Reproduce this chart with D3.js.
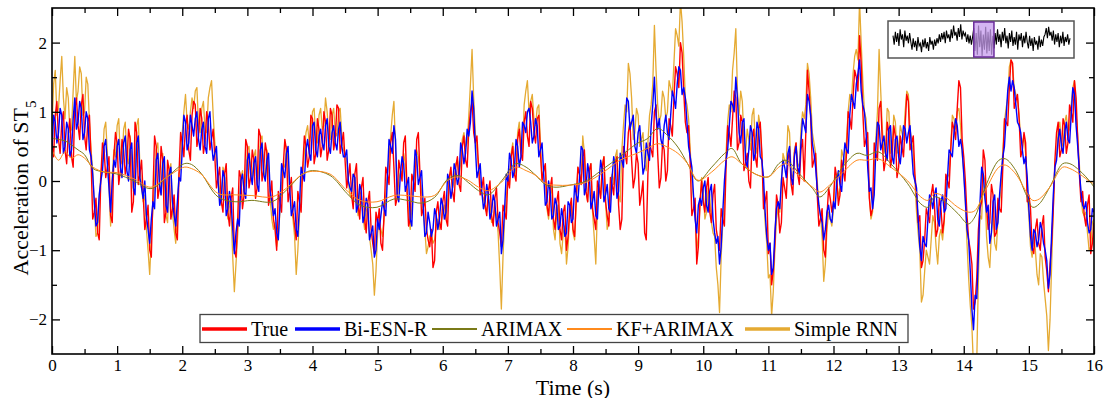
<!DOCTYPE html>
<html>
<head>
<meta charset="utf-8">
<script src="https://cdn.jsdelivr.net/npm/d3@7"></script>
<style>
  body { margin: 0; background: #fff; }
  svg text { font-family: "Liberation Serif", "Times New Roman", serif; fill: #000; }
</style>
</head>
<body>
<div id="chart"></div>
<script>
// Acceleration of ST5, true signal vs. four predictors, 16 s window

// ---- data (one value every 0.025 s, 40 per row = 1 s) ----
const sampleStep = 0.025;

const trueValues = [
  0.55,0.35,0.95,1.15,0.60,0.40,0.85,1.00,0.45,0.25,0.70,0.90,0.35,0.20,1.05,1.20,0.80,0.60,1.10,1.25,0.65,0.45,0.85,0.95,0.30,-0.55,-0.45,-0.25,-0.75,-0.85,0.05,0.55,0.45,0.05,0.20,0.35,-0.50,-0.60,0.35,0.70,
  0.55,-0.05,0.15,0.60,0.45,0.10,0.25,0.75,0.60,-0.45,-0.30,0.85,0.70,-0.05,0.10,0.30,-0.20,-0.70,-0.55,-0.35,-1.00,-1.10,-0.20,0.65,0.50,-0.25,-0.10,0.50,0.30,-0.60,-0.45,0.30,0.15,-0.55,-0.40,-0.20,-0.75,-0.85,0.10,0.70,
  0.55,0.35,0.80,0.95,0.45,0.30,0.95,1.15,1.10,0.50,0.65,1.05,0.90,0.40,0.55,1.00,0.85,0.45,0.60,0.75,0.35,-0.10,0.05,0.20,-0.30,-0.45,0.10,0.25,-0.45,-0.65,-0.25,-0.10,-1.00,-1.10,-0.60,0.15,0.05,-0.40,-0.20,0.60,
  0.50,-0.10,0.05,0.45,0.30,-0.25,-0.10,0.75,0.65,0.00,0.15,0.55,0.40,-0.35,-0.20,0.00,-0.55,-0.70,-1.00,-0.15,-0.30,-0.45,0.20,0.60,0.45,-0.30,-0.15,0.05,-0.45,-0.65,-0.85,-0.15,-0.30,-0.45,0.20,0.65,0.50,0.20,0.35,0.95,
  0.90,0.25,0.40,0.90,0.75,0.35,0.50,1.00,0.85,0.30,0.45,1.05,0.95,0.45,0.60,1.10,1.05,0.40,0.55,0.70,0.30,-0.10,0.05,0.25,-0.20,-0.40,0.10,0.25,-0.35,-0.55,-0.10,0.05,-0.55,-0.75,-0.30,-0.15,-0.70,-0.90,-1.05,-0.45,
  -0.60,-0.40,-0.90,-1.00,-0.45,0.20,0.10,-0.05,0.55,0.70,0.20,-0.35,-0.25,0.30,0.15,0.00,0.55,0.65,-0.10,-0.65,-0.55,0.10,0.00,-0.15,0.60,0.70,0.10,-0.50,-0.40,-0.25,-0.70,-0.85,-0.95,-0.70,-1.25,-1.15,-0.45,-0.30,-0.60,-0.70,
  -0.30,-0.15,-0.55,-0.65,0.05,0.20,-0.15,-0.30,0.20,0.35,-0.05,-0.15,0.50,0.65,0.30,0.20,0.75,1.00,1.15,0.70,0.55,0.65,0.20,-0.20,-0.10,0.05,-0.35,-0.50,-0.15,0.00,-0.50,-0.65,-0.25,-0.10,-0.60,-0.75,-0.95,-0.35,-0.45,-0.55,
  0.05,-0.10,0.35,0.50,0.10,0.00,0.60,0.75,0.40,0.30,0.85,1.00,0.65,0.50,1.15,1.05,0.70,0.55,0.90,0.95,0.40,0.00,0.15,0.25,-0.35,-0.50,-0.10,0.05,-0.55,-0.70,-0.30,-0.15,-0.70,-0.85,-0.45,-0.35,-1.00,-0.80,-0.40,-0.25,
  -0.70,-0.80,-0.25,0.20,0.10,-0.05,0.35,0.45,-0.15,-0.30,0.15,0.25,-0.40,-0.55,-0.70,0.00,-0.10,-0.25,0.20,0.35,-0.30,-0.50,-0.65,0.05,-0.05,-0.20,0.25,0.35,-0.35,-0.70,-0.55,0.50,0.40,0.25,0.70,0.85,0.30,-0.10,0.05,0.40,
  0.25,-0.35,-0.20,0.00,-0.75,-0.85,0.10,0.55,0.45,0.35,1.00,1.10,0.40,-0.10,0.05,0.55,0.45,0.00,0.15,0.90,0.80,0.65,1.20,1.65,1.55,1.35,2.00,1.85,1.30,0.85,0.70,0.80,0.25,-0.50,-0.40,-0.25,-1.20,-0.95,-0.30,0.00,
  -0.30,-0.45,-0.10,0.05,-0.45,-0.60,-0.20,-0.05,-0.70,-0.85,-1.00,-0.40,-0.55,-0.65,0.20,0.80,0.70,0.50,0.90,1.30,1.20,0.45,0.55,0.95,0.85,0.15,0.25,0.40,0.00,-0.10,0.60,0.75,0.35,0.20,0.75,0.85,0.40,-0.40,-0.30,-0.15,
  -1.05,-0.90,-1.50,-1.30,-0.90,-0.20,-0.35,-0.75,-0.60,0.05,-0.10,-0.25,0.30,0.45,-0.05,-0.20,0.40,0.55,0.10,-0.05,0.45,0.60,0.00,0.70,1.60,1.30,0.90,0.20,0.30,0.40,-0.20,-0.65,-0.55,-0.40,-1.00,-1.10,-0.50,-0.10,-0.25,-0.45,
  -0.30,0.20,0.05,-0.35,-0.20,0.30,0.15,0.00,0.40,1.00,0.90,0.75,1.20,1.60,1.50,1.30,2.10,1.70,1.00,0.50,0.60,0.70,-0.25,-0.50,-0.40,0.55,0.40,0.30,1.05,1.15,0.55,0.15,0.30,0.85,0.70,0.20,0.35,0.80,0.65,0.05,
  0.20,0.65,0.50,0.35,0.80,1.25,1.15,0.45,0.55,0.65,0.10,-0.20,-0.60,-0.50,-1.25,-1.15,-0.85,-0.40,-0.50,-0.60,-0.20,-0.05,-0.35,-0.80,-0.70,-0.25,-0.40,-0.75,-0.55,0.10,0.00,-0.10,0.45,0.85,0.75,0.60,1.05,1.45,1.35,0.60,
  0.35,0.00,-0.50,-0.85,-1.00,-1.20,-1.85,-1.75,-1.40,-0.70,-0.40,-0.30,0.45,0.30,-0.35,-0.70,-0.60,-0.05,-0.20,-0.80,-0.75,-0.25,-0.40,-0.45,0.20,0.90,0.85,0.80,1.35,1.75,1.70,1.05,1.15,1.25,0.90,0.35,0.45,0.70,0.55,-0.30,
  -0.20,-0.40,-0.95,-1.05,-0.70,-0.55,-0.90,-1.00,-0.65,-0.50,-1.10,-1.30,-1.60,-1.20,-0.90,-0.40,0.30,0.70,0.85,0.35,0.45,0.90,0.80,0.40,0.55,1.10,1.00,0.85,1.45,1.20,0.60,0.10,-0.30,-0.15,-0.50,-0.65,-0.35,-0.20,-1.05,-0.90,
  -0.60
];

const biEsnValues = [
  0.45,0.95,0.85,0.55,0.70,1.05,0.95,0.40,0.50,0.85,0.75,0.35,0.45,0.90,1.20,0.75,0.85,1.15,1.05,0.60,0.70,1.00,0.90,0.45,0.35,0.10,-0.30,-0.65,-0.60,-0.20,0.00,0.15,0.50,0.60,0.25,-0.10,-0.45,0.00,0.30,0.20,
  0.50,0.60,0.20,0.05,0.55,0.65,0.15,0.00,0.45,0.55,-0.10,-0.20,0.55,0.65,0.05,-0.10,-0.25,0.00,-0.50,-0.70,-0.90,-0.55,-0.30,-0.40,0.30,0.40,-0.05,-0.20,0.25,0.35,-0.35,-0.45,0.10,0.20,-0.30,-0.50,-0.65,-0.30,0.05,0.00,
  0.45,0.95,0.85,0.45,0.55,0.95,0.80,0.65,0.90,1.00,0.60,0.45,0.75,0.85,0.50,0.40,0.90,1.00,0.55,0.30,0.40,0.50,0.00,-0.35,-0.25,0.15,0.05,-0.50,-0.40,-0.15,-0.30,-0.70,-1.05,-0.75,-0.55,-0.65,0.00,0.10,-0.15,-0.25,
  0.30,0.40,0.10,-0.05,0.25,0.35,-0.05,-0.15,0.45,0.55,0.10,0.00,0.30,0.40,-0.15,-0.30,-0.50,-0.40,-0.75,-0.85,-0.35,0.25,0.15,0.05,0.40,0.50,-0.10,-0.50,-0.40,-0.30,-0.70,-0.80,-0.35,0.20,0.10,0.00,0.45,0.60,0.40,0.30,
  0.80,0.85,0.45,0.35,0.65,0.75,0.55,0.45,0.80,0.90,0.50,0.40,0.70,0.80,0.55,0.45,0.75,0.85,0.50,0.35,0.35,0.45,0.00,-0.10,-0.15,0.10,0.05,-0.45,-0.35,-0.05,-0.15,-0.60,-0.50,-0.25,-0.35,-0.85,-0.75,-0.65,-1.10,-1.00,
  -0.55,-0.70,-0.50,-0.30,-0.40,-0.50,0.05,0.60,0.50,0.40,0.80,0.60,-0.20,-0.30,0.10,0.35,0.25,-0.15,-0.05,0.05,-0.55,-0.65,-0.05,0.45,0.35,-0.05,0.05,0.15,-0.35,-0.80,-0.75,-0.45,-0.60,-0.80,-0.70,-0.40,-0.50,-0.70,-0.55,-0.25,
  -0.35,-0.55,-0.45,0.10,0.00,-0.25,-0.10,0.25,0.15,-0.05,0.05,0.55,0.45,0.25,0.40,0.75,0.65,0.85,1.30,1.05,0.50,0.05,0.15,0.25,-0.15,-0.40,-0.30,-0.05,-0.20,-0.55,-0.45,-0.20,-0.30,-0.65,-0.55,-0.45,-1.05,-0.85,-0.40,0.10,
  0.00,0.40,0.30,0.05,0.15,0.60,0.50,0.20,0.35,0.85,0.80,0.70,1.00,1.05,0.85,0.55,0.65,0.90,0.80,0.35,0.45,0.55,0.10,-0.35,-0.30,0.00,-0.15,-0.55,-0.50,-0.25,-0.35,-0.70,-0.65,-0.40,-0.55,-0.80,-0.75,-0.30,-0.35,-0.60,
  -0.55,-0.05,-0.20,-0.30,0.05,0.50,0.45,-0.20,-0.10,0.25,0.10,-0.40,-0.30,-0.15,-0.50,-0.55,0.00,0.30,0.15,-0.30,-0.20,-0.05,-0.40,-0.45,0.05,0.35,0.20,-0.25,-0.15,0.40,0.30,0.20,0.75,1.20,1.15,0.75,0.85,0.95,0.50,0.40,
  0.70,0.80,0.45,0.10,0.20,0.55,0.40,0.30,0.80,1.10,1.50,0.95,0.75,0.90,0.60,0.50,0.80,0.95,0.70,0.60,0.95,1.30,1.20,1.05,1.40,1.65,1.60,1.25,1.35,1.20,0.85,0.50,0.35,0.20,-0.20,-0.55,-0.75,-0.35,-0.25,-0.35,
  -0.10,0.00,-0.35,-0.45,-0.15,-0.05,-0.55,-0.75,-0.90,-0.80,-1.20,-0.95,-0.45,0.00,0.30,0.45,0.80,1.15,1.10,1.00,1.50,1.20,0.70,0.55,0.85,0.90,0.30,0.20,0.45,0.80,0.70,0.30,0.40,0.85,0.75,0.35,0.30,0.05,-0.45,-0.80,
  -1.00,-0.90,-1.35,-1.25,-0.75,-0.40,-0.30,-0.40,0.00,0.30,0.20,0.05,0.40,0.50,0.05,-0.05,0.35,0.50,0.20,0.10,0.55,0.90,0.80,0.70,1.25,1.15,0.95,0.55,0.40,0.20,-0.10,-0.35,-0.50,-0.60,-0.85,-0.70,-0.45,-0.35,-0.55,-0.60,
  -0.30,-0.40,0.00,0.15,-0.05,-0.15,0.25,0.55,0.45,0.40,0.95,1.25,1.15,1.05,1.40,1.55,1.75,1.30,1.10,1.00,0.70,0.20,-0.15,-0.10,-0.40,-0.20,0.45,0.85,0.80,0.45,0.55,0.65,0.40,0.30,0.75,0.80,0.35,0.25,0.60,0.65,
  0.35,0.25,0.50,0.80,0.75,0.55,0.70,0.80,0.45,0.10,0.00,-0.10,-0.55,-0.95,-1.15,-0.80,-0.90,-0.95,-0.55,-0.20,-0.25,-0.40,-0.20,-0.10,-0.55,-0.65,-0.30,-0.20,-0.45,-0.40,0.05,0.45,0.40,0.35,0.70,0.90,0.80,0.50,0.60,0.45,
  0.10,-0.30,-0.70,-0.85,-1.30,-1.85,-2.15,-1.65,-1.70,-1.05,-0.30,0.20,0.10,-0.25,-0.45,-0.35,-0.90,-0.75,-0.30,-0.20,-0.70,-0.60,-0.20,0.10,0.35,0.50,0.90,1.30,1.50,1.30,1.45,1.35,1.10,0.85,0.80,0.70,0.45,0.25,0.35,0.05,
  -0.40,-0.80,-1.00,-0.70,-0.75,-0.95,-0.85,-0.60,-0.70,-0.90,-1.00,-1.15,-1.55,-1.35,-0.75,-0.20,0.20,0.30,0.60,0.75,0.50,0.40,0.70,0.85,0.60,0.55,0.95,1.35,1.25,0.80,0.50,0.15,-0.15,-0.35,-0.40,-0.30,-0.60,-0.75,-0.70,-0.40,
  -0.45
];

const simpleRnnValues = [
  0.80,1.40,1.60,0.95,1.05,1.45,1.80,1.20,0.90,1.35,1.20,0.70,0.75,1.30,1.80,1.15,1.30,1.65,1.55,0.95,1.00,1.50,1.40,0.85,0.45,0.15,-0.35,-0.80,-0.75,-0.25,0.10,0.30,0.75,0.85,0.40,-0.10,-0.65,0.05,0.45,0.35,
  0.80,0.90,0.30,0.25,0.75,0.85,0.35,0.25,0.65,0.30,-0.15,0.10,0.80,0.90,0.20,-0.10,-0.30,-0.20,-0.70,-1.00,-1.35,-0.80,-0.40,0.00,0.45,0.55,-0.05,-0.20,0.40,0.05,-0.50,-0.60,0.15,0.25,-0.45,-0.70,-0.90,-0.40,0.10,0.20,
  0.70,1.00,1.25,0.85,0.75,1.00,1.20,1.05,1.30,1.35,0.80,0.70,1.05,1.15,0.75,0.70,1.20,1.35,1.45,0.95,0.55,0.35,0.05,-0.15,-0.35,0.20,0.10,-0.20,-0.55,-0.30,-0.45,-1.10,-1.60,-1.20,-0.80,-0.40,0.05,0.15,-0.20,0.10,
  0.45,0.50,0.15,0.05,0.35,0.45,-0.10,0.20,0.60,0.65,0.15,0.05,0.45,0.20,-0.25,-0.55,-0.70,-0.60,-0.95,-0.80,-0.45,-0.05,0.25,0.20,0.50,0.30,-0.15,-0.40,-0.55,-0.80,-1.35,-1.00,-0.50,-0.10,0.15,0.40,0.70,0.80,0.55,0.70,
  1.00,1.05,0.60,0.55,0.95,1.05,0.75,0.80,1.20,1.00,0.65,0.60,0.95,1.05,0.70,0.65,1.00,1.05,0.65,0.45,0.40,0.30,0.00,-0.20,-0.25,0.10,0.05,-0.30,-0.50,-0.15,-0.20,-0.50,-0.70,-0.40,-0.45,-0.80,-1.00,-1.20,-1.65,-1.30,
  -0.75,-0.60,-0.70,-0.80,-0.55,-0.20,0.10,0.35,0.65,0.95,1.15,0.50,-0.25,0.00,0.15,0.10,0.40,0.25,-0.10,-0.45,-0.70,-0.40,-0.05,0.15,0.45,0.35,0.05,-0.15,-0.45,-0.70,-1.05,-0.95,-0.80,-0.75,-0.90,-0.85,-0.65,-0.55,-0.70,-0.60,
  -0.45,-0.35,-0.55,-0.30,0.05,0.15,-0.10,0.00,0.25,0.30,0.10,0.25,0.60,0.70,0.50,0.55,0.95,1.40,1.90,1.20,0.70,0.45,0.20,0.00,-0.20,-0.25,-0.40,-0.45,-0.25,-0.35,-0.60,-0.55,-0.40,-0.50,-0.75,-1.25,-1.85,-1.10,-0.55,-0.25,
  0.05,-0.05,0.40,0.55,0.20,0.10,0.70,0.85,0.50,0.40,1.10,1.30,1.45,1.00,1.15,1.25,0.90,0.80,1.05,1.10,0.55,0.05,0.15,0.20,-0.40,-0.55,-0.20,-0.10,-0.70,-0.85,-0.45,-0.35,-0.90,-1.05,-0.75,-0.65,-1.20,-0.95,-0.45,-0.35,
  -0.75,-0.85,-0.30,0.20,0.10,0.00,0.65,0.40,-0.15,-0.30,0.15,0.25,-0.45,-0.80,-1.20,-0.40,-0.05,-0.20,0.25,0.35,-0.30,-0.70,-0.60,-0.05,0.10,-0.05,0.35,0.45,-0.20,-0.30,0.45,0.80,1.10,1.00,1.70,1.55,1.20,0.60,0.70,1.05,
  0.95,0.50,0.60,0.70,0.25,0.15,0.55,0.95,1.10,1.40,2.25,1.60,1.10,0.85,0.95,1.30,1.20,0.90,1.00,1.45,1.35,1.25,1.70,2.20,2.10,1.95,2.60,2.30,1.80,1.20,1.10,0.90,0.45,0.00,-0.25,-0.45,-1.00,-0.80,-0.35,0.05,
  -0.15,-0.55,-0.45,-0.10,-0.20,-0.60,-0.75,-0.80,-1.25,-1.50,-1.90,-1.10,-0.60,-0.30,0.40,0.85,1.10,1.00,1.60,1.85,2.20,1.30,0.95,1.30,1.15,0.60,0.40,0.75,0.60,0.45,0.95,1.05,0.50,0.40,0.95,0.80,0.35,-0.15,-0.60,-0.90,
  -1.40,-1.35,-1.95,-1.60,-1.00,-0.55,-0.40,-0.45,0.00,0.40,0.30,0.25,0.80,0.70,0.10,0.05,0.45,0.55,0.25,0.20,0.75,1.00,0.90,1.10,1.70,1.55,1.20,0.70,0.55,0.40,0.00,-0.35,-0.50,-0.80,-1.45,-1.20,-0.70,-0.45,-0.55,-0.65,
  -0.40,0.10,0.00,-0.25,-0.10,0.45,0.35,0.25,0.60,1.00,1.25,1.15,1.55,1.80,1.90,1.75,2.60,2.00,1.45,1.00,0.90,0.45,-0.20,-0.55,-0.45,0.20,0.60,1.00,1.90,1.30,0.75,0.40,0.50,1.05,1.00,0.40,0.45,0.95,0.85,0.40,
  0.45,0.80,0.70,0.60,1.00,1.30,1.25,0.75,0.60,0.40,0.00,-0.45,-0.75,-1.00,-1.75,-1.65,-1.30,-1.00,-1.10,-1.20,-0.85,-0.50,-0.60,-0.95,-1.20,-0.80,-0.70,-0.85,-0.60,-0.10,0.05,0.10,0.50,0.95,0.90,0.75,1.00,1.05,0.80,0.40,
  0.15,-0.30,-0.90,-1.40,-1.80,-2.10,-2.70,-2.80,-2.60,-1.40,-0.50,-0.55,0.10,0.00,-0.80,-1.10,-1.25,-0.75,-0.50,-0.90,-1.00,-0.55,-0.30,-0.10,0.45,0.85,1.05,1.20,1.65,1.75,1.65,1.35,1.25,1.20,0.95,0.60,0.55,0.65,0.40,-0.20,
  -0.50,-0.95,-1.10,-0.80,-1.00,-1.35,-1.50,-1.05,-1.10,-1.45,-1.70,-1.95,-2.45,-2.00,-1.20,-0.40,0.25,0.35,0.75,0.85,0.55,0.50,0.85,0.95,0.70,0.75,1.10,1.35,1.45,0.95,0.65,0.25,-0.20,-0.45,-0.50,-0.45,-0.75,-1.00,-0.95,-0.60,
  -0.55
];

// smooth predictors, read at the points where they turn
const smoothTime = [
  0.00,0.10,0.20,0.30,0.40,0.50,0.63,0.80,1.00,1.26,1.52,1.77,2.03,2.14,2.29,2.55,2.81,3.07,3.38,3.59,
  3.85,4.00,4.27,4.53,4.73,4.99,5.25,5.46,5.67,5.87,6.08,6.24,6.39,6.55,6.70,6.91,7.12,7.28,7.43,7.59,
  7.74,7.95,8.20,8.47,8.72,8.98,9.14,9.30,9.45,9.61,9.76,9.92,10.13,10.33,10.44,10.59,10.80,11.00,11.16,11.27,
  11.48,11.68,11.79,11.94,12.10,12.36,12.51,12.69,12.88,13.14,13.34,13.45,13.55,13.71,13.91,14.07,14.17,14.33,14.54,14.64,
  14.80,14.95,15.06,15.16,15.32,15.52,15.63,15.78,15.94,16.00
];
const arimaxValues = [
  0.62,0.60,0.58,0.52,0.45,0.38,0.18,0.13,0.10,0.00,-0.11,0.06,0.25,0.24,0.11,-0.23,-0.30,-0.28,-0.30,-0.14,
  0.10,0.15,0.08,-0.18,-0.35,-0.38,-0.26,-0.28,-0.32,-0.24,0.03,0.08,-0.02,-0.14,-0.20,0.01,0.25,0.20,0.08,-0.06,
  -0.09,-0.06,0.00,0.18,0.35,0.54,0.61,0.76,0.66,0.49,0.25,0.00,0.20,0.40,0.47,0.25,0.10,0.06,0.25,0.30,
  0.10,-0.11,-0.23,-0.09,0.15,0.40,0.37,0.42,0.25,-0.04,-0.33,-0.38,-0.23,-0.30,-0.47,-0.62,-0.52,-0.09,0.30,0.32,
  0.15,-0.18,-0.38,-0.33,-0.09,0.25,0.25,0.15,-0.01,-0.09
];
const kfArimaxValues = [
  0.45,0.30,0.42,0.33,0.38,0.33,0.20,0.13,0.12,0.03,-0.09,0.06,0.20,0.18,0.10,-0.18,-0.20,-0.21,-0.23,-0.11,
  0.10,0.14,0.10,-0.14,-0.28,-0.30,-0.21,-0.21,-0.23,-0.21,0.01,0.06,0.01,-0.09,-0.14,-0.01,0.20,0.15,0.08,-0.04,
  -0.06,-0.06,-0.02,0.13,0.30,0.40,0.47,0.54,0.49,0.40,0.25,0.01,0.13,0.30,0.35,0.25,0.10,0.06,0.20,0.25,
  0.06,-0.09,-0.16,-0.06,0.08,0.30,0.30,0.32,0.20,0.00,-0.23,-0.28,-0.18,-0.23,-0.38,-0.45,-0.43,-0.14,0.20,0.23,
  0.10,-0.14,-0.28,-0.26,-0.09,0.20,0.18,0.10,-0.01,-0.04
];

// inset: the whole record, the main window is highlighted
const insetSignal = [
  0.3,-0.4,0.6,-0.2,0.5,-0.5,0.8,0.0,0.4,-0.6,0.7,-0.1,0.3,-0.3,0.5,
  -0.2,-0.8,0.1,-0.6,-0.1,-0.9,0.2,-0.5,-0.3,-1.0,0.0,-0.6,0.1,-0.7,-0.2,-0.9,0.2,-0.4,-0.1,-0.8,0.0,-0.5,0.1,
  -0.3,0.4,-0.2,0.5,0.0,0.6,-0.3,0.7,0.1,0.4,-0.2,
  0.8,0.1,1.1,0.3,0.6,-0.1,0.9,0.2,1.2,0.0,0.7,0.3,0.5,-0.2,0.4,
  -0.3,0.3,-0.4,0.2,
  0.9,-0.9,0.5,-1.2,1.1,-0.6,0.7,-1.3,0.4,-0.8,1.0,-1.1,0.6,-0.9,0.8,-1.2,0.3,-0.7,
  0.5,-0.4,0.8,-0.2,0.4,-0.6,0.6,-0.1,0.9,-0.3,0.3,-0.7,0.5,-0.2,0.7,-0.5,0.2,-0.4,0.6,-0.8,0.4,-0.1,0.5,-0.6,0.3,-0.3,0.6,
  -0.2,-0.7,0.3,-0.5,0.1,-0.9,0.2,-0.4,-0.1,-0.8,0.3,-0.6,0.0,-0.5,0.2,
  0.4,0.9,0.1,1.0,0.3,0.6,-0.1,0.7,
  -0.4,0.4,-0.2,0.5,-0.6,0.3,-0.3,0.6,-0.5,0.2,-0.2,0.4,-0.4,0.1
];
const insetWindow = [68, 85];

// axis ticks
const xMajorTicks = d3.range(0, 17);
const xMinorTicks = d3.range(0.5, 16, 1);
const yMajorTicks = [-2, -1, 0, 1, 2];
const yMinorTicks = [-1.5, -0.5, 0.5, 1.5];

const seriesNames = ["True", "Bi-ESN-R", "ARIMAX", "KF+ARIMAX", "Simple RNN"];
const seriesColors = ["#ff0000", "#0000ff", "#7a7a18", "#ff8a1c", "#e5aa32"];

// ---- layout ----
const width = 1107;
const height = 398;
const margin = {left: 52, right: 13, top: 8, bottom: 44};
const plotRight = width - margin.right;
const plotBottom = height - margin.bottom;

const svg = d3.select("#chart")
    .append("svg")
    .attr("width", width)
    .attr("height", height);

const x = d3.scaleLinear().domain([0, 16]).range([margin.left, plotRight]);
const y = d3.scaleLinear().domain([-2.5, 2.5]).range([plotBottom, margin.top]);

svg.append("clipPath")
    .attr("id", "plotClip")
    .append("rect")
    .attr("x", margin.left)
    .attr("y", margin.top)
    .attr("width", plotRight - margin.left)
    .attr("height", plotBottom - margin.top);

// ---- series ----
const sampled = values => values.map((v, i) => [i * sampleStep, v]);
const smooth = values => values.map((v, i) => [smoothTime[i], v]);

const noisyLine = d3.line()
    .x(d => x(d[0]))
    .y(d => y(d[1]));

const smoothLine = d3.line()
    .x(d => x(d[0]))
    .y(d => y(d[1]))
    .curve(d3.curveCatmullRom.alpha(0.5));

const plot = svg.append("g").attr("clip-path", "url(#plotClip)");

plot.append("path")
    .attr("d", noisyLine(sampled(simpleRnnValues)))
    .attr("fill", "none")
    .attr("stroke", seriesColors[4])
    .attr("stroke-width", 1.3)
    .attr("stroke-linejoin", "round");

plot.append("path")
    .attr("d", noisyLine(sampled(trueValues)))
    .attr("fill", "none")
    .attr("stroke", seriesColors[0])
    .attr("stroke-width", 1.4)
    .attr("stroke-linejoin", "round");

plot.append("path")
    .attr("d", noisyLine(sampled(biEsnValues)))
    .attr("fill", "none")
    .attr("stroke", seriesColors[1])
    .attr("stroke-width", 1.4)
    .attr("stroke-linejoin", "round");

plot.append("path")
    .attr("d", smoothLine(smooth(arimaxValues)))
    .attr("fill", "none")
    .attr("stroke", seriesColors[2])
    .attr("stroke-width", 1);

plot.append("path")
    .attr("d", smoothLine(smooth(kfArimaxValues)))
    .attr("fill", "none")
    .attr("stroke", seriesColors[3])
    .attr("stroke-width", 1);

// ---- axes, ticks point inwards on all four sides ----
function styleAxis(g) {
    g.select(".domain").remove();
    g.selectAll(".tick line").attr("stroke", "#000").attr("stroke-width", 1.3);
    g.selectAll(".tick text").style("font-size", "17px").style("font-family", "'Liberation Serif', serif");
}

svg.append("g")
    .attr("transform", "translate(0," + plotBottom + ")")
    .call(d3.axisBottom(x).tickValues(xMajorTicks).tickSize(-8).tickPadding(5).tickFormat(d3.format("d")))
    .call(styleAxis);
svg.append("g")
    .attr("transform", "translate(0," + plotBottom + ")")
    .call(d3.axisBottom(x).tickValues(xMinorTicks).tickSize(-5).tickFormat(""))
    .call(styleAxis);
svg.append("g")
    .attr("transform", "translate(0," + margin.top + ")")
    .call(d3.axisTop(x).tickValues(xMajorTicks).tickSize(-8).tickFormat(""))
    .call(styleAxis);
svg.append("g")
    .attr("transform", "translate(0," + margin.top + ")")
    .call(d3.axisTop(x).tickValues(xMinorTicks).tickSize(-5).tickFormat(""))
    .call(styleAxis);

svg.append("g")
    .attr("transform", "translate(" + margin.left + ",0)")
    .call(d3.axisLeft(y).tickValues(yMajorTicks).tickSize(-8).tickPadding(5).tickFormat(d3.format("d")))
    .call(styleAxis);
svg.append("g")
    .attr("transform", "translate(" + margin.left + ",0)")
    .call(d3.axisLeft(y).tickValues(yMinorTicks).tickSize(-5).tickFormat(""))
    .call(styleAxis);
svg.append("g")
    .attr("transform", "translate(" + plotRight + ",0)")
    .call(d3.axisRight(y).tickValues(yMajorTicks).tickSize(-8).tickFormat(""))
    .call(styleAxis);
svg.append("g")
    .attr("transform", "translate(" + plotRight + ",0)")
    .call(d3.axisRight(y).tickValues(yMinorTicks).tickSize(-5).tickFormat(""))
    .call(styleAxis);

// frame
svg.append("rect")
    .attr("x", margin.left)
    .attr("y", margin.top)
    .attr("width", plotRight - margin.left)
    .attr("height", plotBottom - margin.top)
    .attr("fill", "none")
    .attr("stroke", "#000")
    .attr("stroke-width", 1.6);

// axis titles
svg.append("text")
    .attr("x", (margin.left + plotRight) / 2)
    .attr("y", 394.5)
    .attr("text-anchor", "middle")
    .style("font-size", "22px")
    .text("Time (s)");

const yTitle = svg.append("text")
    .attr("transform", "translate(28,188) rotate(-90)")
    .attr("text-anchor", "middle")
    .style("font-size", "22px")
    .text("Acceleration of ST");
yTitle.append("tspan")
    .attr("baseline-shift", "sub")
    .style("font-size", "15px")
    .text("5");

// ---- legend ----
const legendItemX = [202, 295, 432, 567, 745];
const legendStroke = [3.5, 3.5, 1.8, 1.8, 3.5];
const legendY = 329;

svg.append("rect")
    .attr("x", 200)
    .attr("y", 314.5)
    .attr("width", 708)
    .attr("height", 28)
    .attr("fill", "#fff")
    .attr("stroke", "#444")
    .attr("stroke-width", 1.3);

const legendItems = svg.append("g")
    .selectAll("g")
    .data(seriesNames)
    .join("g")
    .attr("transform", (d, i) => "translate(" + legendItemX[i] + "," + legendY + ")");

legendItems.append("line")
    .attr("x1", 0)
    .attr("x2", 45)
    .attr("stroke", (d, i) => seriesColors[i])
    .attr("stroke-width", (d, i) => legendStroke[i]);

legendItems.append("text")
    .attr("x", 49)
    .attr("dy", "0.35em")
    .style("font-size", "20px")
    .text(d => d);

// ---- inset ----
const inset = {x0: 888, x1: 1074, y0: 21, y1: 58};
const insetX = d3.scaleLinear().domain([0, insetSignal.length - 1]).range([893, 1070]);
const insetY = d3.scaleLinear().domain([-1.3, 1.3]).range([inset.y1 - 2, inset.y0 + 2]);

svg.append("rect")
    .attr("x", inset.x0)
    .attr("y", inset.y0)
    .attr("width", inset.x1 - inset.x0)
    .attr("height", inset.y1 - inset.y0)
    .attr("fill", "#fff")
    .attr("stroke", "#555")
    .attr("stroke-width", 1.5);

svg.append("path")
    .attr("d", d3.line().x((d, i) => insetX(i)).y(d => insetY(d))(insetSignal))
    .attr("fill", "none")
    .attr("stroke", "#000")
    .attr("stroke-width", 1.1);

svg.append("rect")
    .attr("x", insetX(insetWindow[0]))
    .attr("y", inset.y0 + 1)
    .attr("width", insetX(insetWindow[1]) - insetX(insetWindow[0]))
    .attr("height", inset.y1 - inset.y0 - 2)
    .attr("fill", "#c79ced")
    .attr("fill-opacity", 0.75)
    .attr("stroke", "#6b2c9c")
    .attr("stroke-width", 1.5);
</script>
</body>
</html>
